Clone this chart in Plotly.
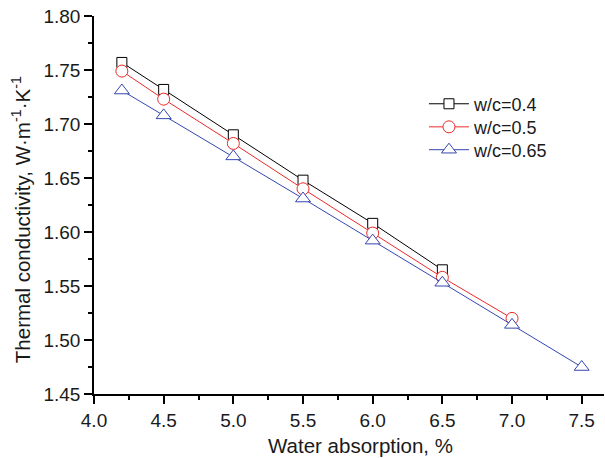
import plotly.graph_objects as go

x_04 = [4.2, 4.5, 5.0, 5.5, 6.0, 6.5]
y_04 = [1.757, 1.732, 1.690, 1.648, 1.608, 1.565]
x_05 = [4.2, 4.5, 5.0, 5.5, 6.0, 6.5, 7.0]
y_05 = [1.749, 1.723, 1.682, 1.640, 1.599, 1.558, 1.520]
x_065 = [4.2, 4.5, 5.0, 5.5, 6.0, 6.5, 7.0, 7.5]
y_065 = [1.731, 1.708, 1.670, 1.631, 1.592, 1.553, 1.514, 1.475]
names = ["w/c=0.4", "w/c=0.5", "w/c=0.65"]
x_ticks = [4.0, 4.5, 5.0, 5.5, 6.0, 6.5, 7.0, 7.5]
x_ticktext = ["4.0", "4.5", "5.0", "5.5", "6.0", "6.5", "7.0", "7.5"]
y_ticks = [1.45, 1.50, 1.55, 1.60, 1.65, 1.70, 1.75, 1.80]
y_ticktext = ["1.45", "1.50", "1.55", "1.60", "1.65", "1.70", "1.75", "1.80"]
x_title = "Water absorption, %"
y_title = "Thermal conductivity, W·m<sup>-1</sup>·K<sup>-1</sup>"

FONT = "Liberation Sans, Arial, Helvetica, sans-serif"
TXT = "#1a1a1a"
BLACK = "#000000"
RED = "#ec2a2a"
BLUE = "#3446b0"

fig = go.Figure()
series = [
    (x_04, y_04, names[0], BLACK, "square", 10, "legend"),
    (x_05, y_05, names[1], RED, "circle", 12, "legend2"),
    (x_065, y_065, names[2], BLUE, "triangle-up", 13, "legend3"),
]
for xs, ys, nm, col, sym, sz, lg in series:
    fig.add_trace(go.Scatter(
        x=xs, y=ys, name=nm, mode="lines+markers", legend=lg,
        line=dict(color=col, width=1),
        marker=dict(symbol=sym, size=sz, color="white", line=dict(color=col, width=1)),
    ))

XR = [4.0, 7.66]
YR = [1.45, 1.80]
axis_common = dict(showgrid=False, zeroline=False, linecolor="black", linewidth=1.5,
                   tickcolor="black", tickwidth=1.5, ticklen=8,
                   tickfont=dict(family=FONT, size=19, color=TXT))

def leg(yp):
    return dict(x=0.647, y=yp, xanchor="left", yanchor="middle",
                font=dict(family=FONT, size=18, color=TXT),
                bgcolor="rgba(0,0,0,0)", itemwidth=40)

fig.update_layout(
    width=605, height=458,
    margin=dict(l=94, r=1, t=16, b=64),
    plot_bgcolor="white", paper_bgcolor="white",
    showlegend=True,
    legend=leg(0.767), legend2=leg(0.706), legend3=leg(0.6455),
    xaxis=dict(range=XR, tickvals=x_ticks, ticktext=x_ticktext,
               ticks="outside",
               minor=dict(dtick=0.25, tick0=4.0, ticks="outside", ticklen=4, tickwidth=1.5, tickcolor="black"),
               **axis_common),
    yaxis=dict(range=YR, tickvals=y_ticks, ticktext=y_ticktext,
               ticks="outside",
               minor=dict(dtick=0.025, tick0=1.45, ticks="outside", ticklen=4, tickwidth=1.5, tickcolor="black"),
               **axis_common),
    xaxis2=dict(range=XR, overlaying="x", side="top", showticklabels=False,
                tickvals=x_ticks, ticks="inside",
                minor=dict(dtick=0.25, tick0=4.0, ticks="inside", ticklen=4, tickwidth=1.5, tickcolor="black"),
                **axis_common),
    yaxis2=dict(range=YR, overlaying="y", side="right", showticklabels=False,
                tickvals=y_ticks, ticks="inside",
                minor=dict(dtick=0.025, tick0=1.45, ticks="inside", ticklen=4, tickwidth=1.5, tickcolor="black"),
                **axis_common),
    annotations=[
        dict(text=x_title, xref="paper", yref="paper", x=0.5216, y=-0.135,
             xanchor="center", yanchor="middle", showarrow=False,
             font=dict(family=FONT, size=20.5, color=TXT)),
        dict(text=y_title, xref="paper", yref="paper", x=-0.143, y=0.46,
             xanchor="center", yanchor="middle", showarrow=False, textangle=-90,
             font=dict(family=FONT, size=20.5, color=TXT)),
    ],
)
fig.write_html("out.html")
